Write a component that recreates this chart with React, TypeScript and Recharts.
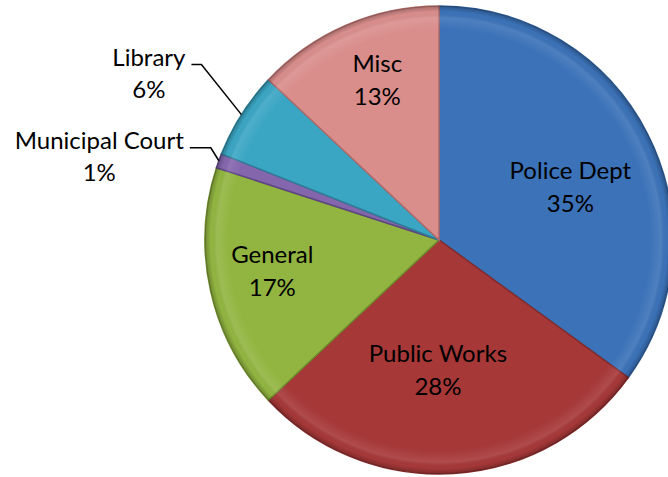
import { PieChart, Pie, Cell } from "recharts";

const departments = ["Police Dept", "Public Works", "General", "Municipal Court", "Library", "Misc"];
const shares = [35, 28, 17, 1, 6, 13];
const colors = ["#3b72b8", "#a63838", "#92b541", "#8466ad", "#3ba6c4", "#d98e8c"];
const strokes = ["#2c5a94", "#852a2a", "#6f8c2c", "#5e4683", "#2b7f97", "#b06b69"];

const data = departments.map((name, i) => ({ name, value: shares[i] }));

const RAD = Math.PI / 180;
const FONT = "Lato, 'Liberation Sans', sans-serif";
const FS = 24;

// inside labels: distance from centre (fraction of radius) plus a small nudge
const inside: Record<string, { r: number; dx: number; dy: number }> = {
  "Police Dept": { r: 0.63, dx: 0, dy: 10 },
  "Public Works": { r: 0.54, dx: -9, dy: 0 },
  General: { r: 0.73, dx: 0, dy: -10 },
  Misc: { r: 0.75, dx: 8, dy: -3 },
};

// elbow offsets for the outside labels
const leader: Record<string, { dx: number; dy: number; run: number }> = {
  Library: { dx: -40, dy: -50, run: -10 },
  "Municipal Court": { dx: -8, dy: -13, run: -21 },
};

let ctx: CanvasRenderingContext2D | null = null;
function measure(s: string) {
  if (!ctx) ctx = document.createElement("canvas").getContext("2d");
  if (!ctx) return s.length * 12;
  ctx.font = `${FS}px Lato`;
  return ctx.measureText(s).width;
}

function renderLabel(props: any) {
  const { cx, cy, midAngle, outerRadius, name, value } = props;
  const sin = Math.sin(-midAngle * RAD);
  const cos = Math.cos(-midAngle * RAD);
  if (leader[name]) {
    const l = leader[name];
    const sx = cx + outerRadius * cos;
    const sy = cy + outerRadius * sin;
    const ex = sx + l.dx;
    const ey = sy + l.dy;
    const tx = ex + l.run;
    const right = tx - 6;
    return (
      <g>
        <polyline points={`${sx},${sy} ${ex},${ey} ${tx},${ey}`} fill="none" stroke="#000" strokeWidth={1.5} />
        <text x={right} y={ey + 1} textAnchor="end" fontSize={FS} fontFamily={FONT} fill="#000">
          {name}
        </text>
        <text x={right - measure(name) / 2} y={ey + 33} textAnchor="middle" fontSize={FS} fontFamily={FONT} fill="#000">
          {value}%
        </text>
      </g>
    );
  }
  const p = inside[name] ?? { r: 0.62, dx: 0, dy: 0 };
  const r = outerRadius * p.r;
  const x = cx + r * cos + p.dx;
  const y = cy + r * sin + p.dy;
  return (
    <g>
      <text x={x} y={y - 4} textAnchor="middle" fontSize={FS} fontFamily={FONT} fill="#000">
        {name}
      </text>
      <text x={x} y={y + 29} textAnchor="middle" fontSize={FS} fontFamily={FONT} fill="#000">
        {value}%
      </text>
    </g>
  );
}

export default function App() {
  return (
    <div style={{ position: "absolute", left: 0, top: 0, width: 668, height: 477, background: "#fff" }}>
      <svg width={0} height={0} style={{ position: "absolute" }}>
        <defs>
          <radialGradient id="rim" gradientUnits="userSpaceOnUse" cx={439} cy={240} r={234}>
            <stop offset="0.9" stopColor="#fff" stopOpacity={0} />
            <stop offset="0.95" stopColor="#fff" stopOpacity={0.1} />
            <stop offset="0.975" stopColor="#000" stopOpacity={0} />
            <stop offset="1" stopColor="#000" stopOpacity={0.25} />
          </radialGradient>
        </defs>
      </svg>
      <PieChart width={668} height={477} margin={{ top: 0, right: 0, bottom: 0, left: 0 }}>
        <Pie
          data={data}
          dataKey="value"
          nameKey="name"
          cx={439}
          cy={240}
          outerRadius={234}
          startAngle={90}
          endAngle={-270}
          label={renderLabel}
          labelLine={false}
          isAnimationActive={false}
        >
          {data.map((d, i) => (
            <Cell key={d.name} fill={colors[i]} stroke={strokes[i]} strokeWidth={1.5} />
          ))}
        </Pie>
        <Pie
          data={data}
          dataKey="value"
          cx={439}
          cy={240}
          outerRadius={234}
          startAngle={90}
          endAngle={-270}
          fill="url(#rim)"
          stroke="none"
          isAnimationActive={false}
        />
      </PieChart>
    </div>
  );
}
